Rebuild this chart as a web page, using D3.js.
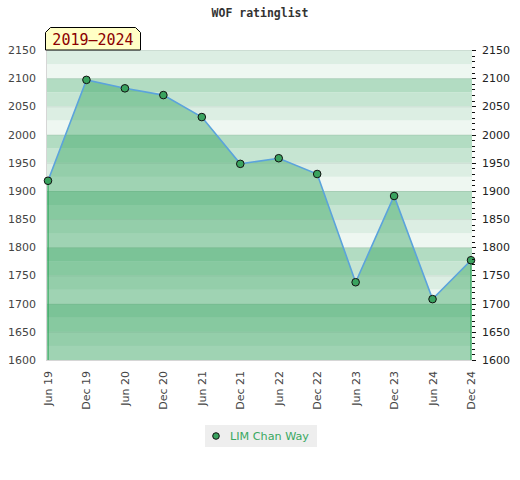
<!DOCTYPE html>
<html><head><meta charset="utf-8">
<script src="https://cdn.jsdelivr.net/npm/d3@7"></script>
<style>body{margin:0;background:#fff}svg{display:block}</style>
</head><body>
<svg id="c" width="520" height="480"></svg>
<script>
const periods = ["Jun 19","Dec 19","Jun 20","Dec 20","Jun 21","Dec 21","Jun 22","Dec 22","Jun 23","Dec 23","Jun 24","Dec 24"];
const ratings = [1918,2097,2082,2070,2031,1948,1958,1930,1738,1891,1708,1777];
const yTicks = [1600,1650,1700,1750,1800,1850,1900,1950,2000,2050,2100,2150];
const seriesName = "LIM Chan Way";
const rangeLabel = "2019\u20132024";
const title = "WOF ratinglist";

const svg = d3.select("#c");
const L = 46, R = 472, T = 50, B = 360;
const x = d3.scalePoint().domain(periods).range([48, 471]);
const y = d3.scaleLinear().domain([1600, 2150]).range([B, T]);

// background bands (period 100, 25-unit strips), counted from the top
const bandCols = ["#dceee3","#eef7f1","#b2dcc2","#c6e5d2"];
const bands = d3.range(1600, 2150, 25);
svg.append("g").selectAll("rect").data(bands).join("rect")
  .attr("x", L).attr("width", R - L)
  .attr("y", d => y(d + 25)).attr("height", d => y(d) - y(d + 25))
  .attr("fill", d => bandCols[((2150 - (d + 25)) / 25) % 4]);

// grid lines
svg.append("g").selectAll("line").data(yTicks).join("line")
  .attr("x1", L).attr("x2", R).attr("y1", d => y(d) + 0.5).attr("y2", d => y(d) + 0.5)
  .attr("stroke", "#000").attr("stroke-opacity", 0.07);

// plot border left and bottom
svg.append("line").attr("x1", L + 0.5).attr("x2", L + 0.5).attr("y1", T).attr("y2", B + 1).attr("stroke", "#d6d6d6");
svg.append("line").attr("x1", L).attr("x2", R).attr("y1", B + 0.5).attr("y2", B + 0.5).attr("stroke", "#d6d6d6");

const data = periods.map((p, i) => ({p, v: ratings[i]}));
// area
svg.append("path").datum(data)
  .attr("d", d3.area().x(d => x(d.p)).y0(y(1600)).y1(d => y(d.v)))
  .attr("fill", "rgb(46,160,90)").attr("fill-opacity", 0.41);
// vertical edges of the area
svg.append("g").selectAll("line").data([data[0], data[data.length - 1]]).join("line")
  .attr("x1", d => x(d.p)).attr("x2", d => x(d.p))
  .attr("y1", d => y(d.v)).attr("y2", y(1600))
  .attr("stroke", "#2ea55a").attr("stroke-width", 1.2);
// line
svg.append("path").datum(data)
  .attr("d", d3.line().x(d => x(d.p)).y(d => y(d.v)))
  .attr("fill", "none").attr("stroke", "#5ba3dc").attr("stroke-width", 1.6);
// points
svg.append("g").selectAll("circle").data(data).join("circle")
  .attr("cx", d => x(d.p)).attr("cy", d => y(d.v)).attr("r", 3.8)
  .attr("fill", "#3aa35f").attr("stroke", "#111").attr("stroke-width", 1);

// left axis labels
const fontAx = "'DejaVu Sans', sans-serif";
svg.append("g").selectAll("text").data(yTicks).join("text")
  .attr("x", 36).attr("y", d => y(d) + 4).attr("text-anchor", "end")
  .attr("font-family", fontAx).attr("font-size", 11).attr("fill", "#444")
  .text(d => d);

// right axis
const rAxis = svg.append("g").attr("transform", `translate(${R},0)`);
rAxis.selectAll("line.minor").data(d3.range(1600, 2151, 10)).join("line")
  .attr("x1", 0).attr("x2", d => d % 50 === 0 ? 4 : 3)
  .attr("y1", d => Math.round(y(d)) + 0.5).attr("y2", d => Math.round(y(d)) + 0.5)
  .attr("stroke", "#111");
rAxis.selectAll("text").data(yTicks).join("text")
  .attr("x", 10).attr("y", d => y(d) + 4)
  .attr("font-family", fontAx).attr("font-size", 11).attr("fill", "#222")
  .text(d => d);

// x labels
svg.append("g").selectAll("text").data(periods).join("text")
  .attr("transform", d => `translate(${x(d) + 4},371) rotate(-90)`)
  .attr("text-anchor", "end")
  .attr("font-family", fontAx).attr("font-size", 11).attr("fill", "#444")
  .text(d => d);

// title
svg.append("text").attr("x", 260).attr("y", 17).attr("text-anchor", "middle")
  .attr("font-family", "'DejaVu Sans Mono', monospace").attr("font-weight", "bold")
  .attr("font-size", 11.5).attr("fill", "#333").text(title);

// range label box
const bx0 = 45.5, bx1 = 140.5, by0 = 27.5, by1 = 50, ch = 5;
svg.append("path")
  .attr("d", `M${bx0},${by1} L${bx0},${by0 + ch} L${bx0 + ch},${by0} L${bx1 - ch},${by0} L${bx1},${by0 + ch} L${bx1},${by1} Z`)
  .attr("fill", "#ffffc6").attr("stroke", "#000").attr("stroke-width", 1);
svg.append("text").attr("x", 93).attr("y", 45).attr("text-anchor", "middle")
  .attr("font-family", "'DejaVu Sans Mono', monospace").attr("font-size", 15)
  .attr("fill", "#8b0000").text(rangeLabel);

// legend
const lg = svg.append("g");
lg.append("rect").attr("x", 205).attr("y", 425).attr("width", 112).attr("height", 22).attr("fill", "#eeeeee");
lg.append("circle").attr("cx", 216).attr("cy", 436).attr("r", 3.3).attr("fill", "#3aa35f").attr("stroke", "#111");
lg.append("text").attr("x", 230).attr("y", 440).attr("font-family", fontAx).attr("font-size", 11.2)
  .attr("fill", "#3aa862").text(seriesName);
</script>
</body></html>
